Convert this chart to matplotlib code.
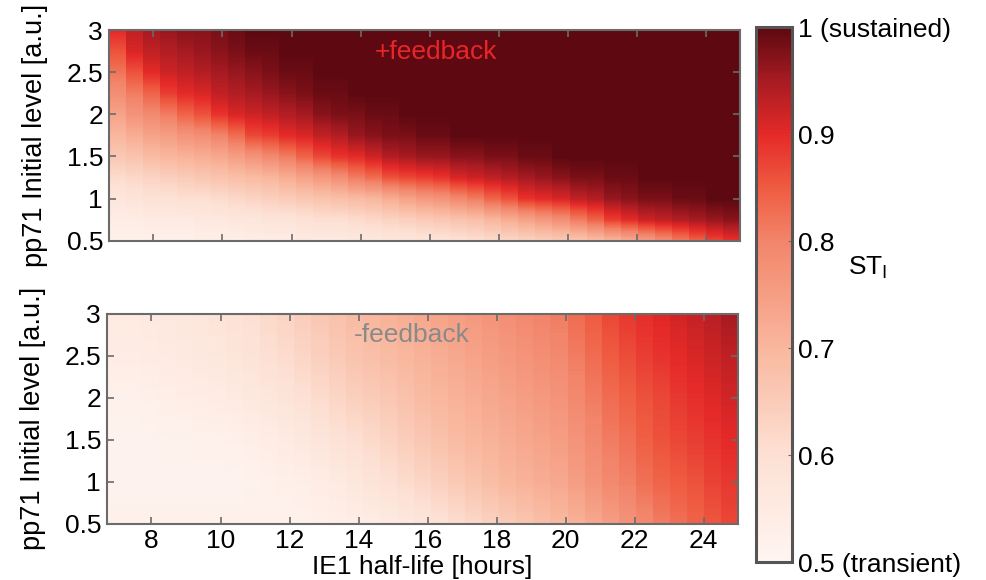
import numpy as np
import matplotlib
matplotlib.use('Agg')
from matplotlib import pyplot as plt
from matplotlib.colors import LinearSegmentedColormap, Normalize
from matplotlib.cm import ScalarMappable

plt.rcParams['font.family'] = ['Liberation Sans', 'DejaVu Sans']
plt.rcParams['font.size'] = 19

# IE1 half-life grid (column edges, hours) - 37 columns
half_life_edges = np.linspace(6.7, 25.0, 38)

# +feedback: ST_I per column, rows from pp71 = 3.0 down to 0.5 (step 0.25)
levels_pos = [3.0, 2.75, 2.5, 2.25, 2.0, 1.75, 1.5, 1.25, 1.0, 0.75, 0.5]
st_pos = [
    [0.90, 0.86, 0.82, 0.78, 0.74, 0.70, 0.66, 0.61, 0.57, 0.54, 0.52],
    [0.93, 0.91, 0.86, 0.81, 0.77, 0.72, 0.67, 0.62, 0.58, 0.54, 0.52],
    [0.95, 0.93, 0.90, 0.84, 0.79, 0.74, 0.69, 0.63, 0.59, 0.55, 0.52],
    [0.96, 0.94, 0.92, 0.88, 0.81, 0.75, 0.70, 0.64, 0.59, 0.55, 0.52],
    [0.97, 0.95, 0.93, 0.90, 0.84, 0.77, 0.71, 0.65, 0.60, 0.55, 0.52],
    [0.97, 0.96, 0.94, 0.91, 0.86, 0.78, 0.72, 0.66, 0.60, 0.56, 0.53],
    [0.98, 0.97, 0.95, 0.93, 0.89, 0.80, 0.73, 0.67, 0.61, 0.56, 0.53],
    [0.99, 0.98, 0.96, 0.94, 0.91, 0.83, 0.75, 0.68, 0.62, 0.57, 0.53],
    [1.00, 0.99, 0.97, 0.95, 0.92, 0.87, 0.77, 0.69, 0.63, 0.57, 0.54],
    [1.00, 0.99, 0.98, 0.96, 0.93, 0.88, 0.79, 0.70, 0.64, 0.58, 0.54],
    [1.00, 1.00, 0.99, 0.97, 0.94, 0.90, 0.81, 0.72, 0.65, 0.58, 0.54],
    [1.00, 1.00, 0.99, 0.98, 0.95, 0.91, 0.84, 0.74, 0.66, 0.59, 0.55],
    [1.00, 1.00, 1.00, 0.99, 0.97, 0.93, 0.87, 0.76, 0.67, 0.60, 0.55],
    [1.00, 1.00, 1.00, 0.99, 0.98, 0.94, 0.89, 0.78, 0.68, 0.60, 0.55],
    [1.00, 1.00, 1.00, 1.00, 0.98, 0.96, 0.90, 0.81, 0.69, 0.61, 0.56],
    [1.00, 1.00, 1.00, 1.00, 0.99, 0.97, 0.92, 0.83, 0.70, 0.62, 0.56],
    [1.00, 1.00, 1.00, 1.00, 0.99, 0.98, 0.94, 0.86, 0.72, 0.63, 0.57],
    [1.00, 1.00, 1.00, 1.00, 1.00, 0.98, 0.95, 0.87, 0.74, 0.64, 0.57],
    [1.00, 1.00, 1.00, 1.00, 1.00, 0.99, 0.96, 0.88, 0.76, 0.65, 0.58],
    [1.00, 1.00, 1.00, 1.00, 1.00, 0.99, 0.96, 0.89, 0.77, 0.66, 0.58],
    [1.00, 1.00, 1.00, 1.00, 1.00, 1.00, 0.97, 0.91, 0.79, 0.67, 0.59],
    [1.00, 1.00, 1.00, 1.00, 1.00, 1.00, 0.97, 0.92, 0.81, 0.68, 0.60],
    [1.00, 1.00, 1.00, 1.00, 1.00, 1.00, 0.98, 0.93, 0.84, 0.70, 0.61],
    [1.00, 1.00, 1.00, 1.00, 1.00, 1.00, 0.98, 0.94, 0.86, 0.72, 0.62],
    [1.00, 1.00, 1.00, 1.00, 1.00, 1.00, 0.99, 0.95, 0.89, 0.74, 0.63],
    [1.00, 1.00, 1.00, 1.00, 1.00, 1.00, 0.99, 0.96, 0.90, 0.76, 0.64],
    [1.00, 1.00, 1.00, 1.00, 1.00, 1.00, 1.00, 0.97, 0.91, 0.78, 0.65],
    [1.00, 1.00, 1.00, 1.00, 1.00, 1.00, 1.00, 0.98, 0.93, 0.81, 0.66],
    [1.00, 1.00, 1.00, 1.00, 1.00, 1.00, 1.00, 0.98, 0.94, 0.84, 0.68],
    [1.00, 1.00, 1.00, 1.00, 1.00, 1.00, 1.00, 0.99, 0.96, 0.88, 0.70],
    [1.00, 1.00, 1.00, 1.00, 1.00, 1.00, 1.00, 0.99, 0.97, 0.90, 0.72],
    [1.00, 1.00, 1.00, 1.00, 1.00, 1.00, 1.00, 1.00, 0.98, 0.92, 0.75],
    [1.00, 1.00, 1.00, 1.00, 1.00, 1.00, 1.00, 1.00, 0.98, 0.93, 0.78],
    [1.00, 1.00, 1.00, 1.00, 1.00, 1.00, 1.00, 1.00, 0.99, 0.94, 0.81],
    [1.00, 1.00, 1.00, 1.00, 1.00, 1.00, 1.00, 1.00, 0.99, 0.95, 0.84],
    [1.00, 1.00, 1.00, 1.00, 1.00, 1.00, 1.00, 1.00, 1.00, 0.96, 0.87],
    [1.00, 1.00, 1.00, 1.00, 1.00, 1.00, 1.00, 1.00, 1.00, 0.97, 0.89],
]

# -feedback: ST_I rows (pp71 = 3.0 down to 0.5, step 0.5), 37 columns each
levels_neg = [3.0, 2.5, 2.0, 1.5, 1.0, 0.5]
neg_y30 = [0.55, 0.55, 0.555, 0.56, 0.565, 0.57, 0.58, 0.59, 0.60, 0.615, 0.63, 0.645, 0.66,
           0.675, 0.69, 0.70, 0.71, 0.72, 0.73, 0.74, 0.75, 0.76, 0.77, 0.78, 0.79, 0.80,
           0.81, 0.83, 0.85, 0.87, 0.885, 0.895, 0.905, 0.915, 0.925, 0.935, 0.95]
neg_y25 = [0.54, 0.54, 0.545, 0.55, 0.555, 0.56, 0.565, 0.575, 0.585, 0.60, 0.61, 0.625, 0.64,
           0.655, 0.67, 0.68, 0.69, 0.70, 0.71, 0.72, 0.73, 0.74, 0.75, 0.76, 0.77, 0.78,
           0.79, 0.81, 0.83, 0.85, 0.865, 0.88, 0.89, 0.90, 0.91, 0.92, 0.93]
neg_y20 = [0.52, 0.52, 0.525, 0.53, 0.535, 0.54, 0.545, 0.55, 0.56, 0.57, 0.58, 0.595, 0.61,
           0.625, 0.64, 0.65, 0.66, 0.675, 0.69, 0.70, 0.71, 0.72, 0.73, 0.74, 0.75, 0.76,
           0.77, 0.79, 0.81, 0.83, 0.845, 0.86, 0.87, 0.885, 0.895, 0.905, 0.915]
neg_y15 = [0.51, 0.51, 0.51, 0.515, 0.515, 0.52, 0.52, 0.525, 0.53, 0.54, 0.55, 0.56, 0.575,
           0.59, 0.60, 0.615, 0.63, 0.645, 0.66, 0.675, 0.69, 0.70, 0.71, 0.72, 0.73, 0.74,
           0.75, 0.77, 0.79, 0.81, 0.825, 0.845, 0.86, 0.87, 0.88, 0.89, 0.90]
neg_y10 = [0.51, 0.51, 0.51, 0.51, 0.51, 0.51, 0.51, 0.51, 0.515, 0.52, 0.525, 0.53, 0.54,
           0.55, 0.565, 0.58, 0.595, 0.61, 0.625, 0.64, 0.655, 0.67, 0.685, 0.70, 0.71, 0.72,
           0.73, 0.75, 0.77, 0.79, 0.805, 0.825, 0.84, 0.85, 0.86, 0.875, 0.885]
neg_y05 = [0.52, 0.52, 0.52, 0.52, 0.52, 0.52, 0.52, 0.52, 0.52, 0.52, 0.52, 0.52, 0.525,
           0.53, 0.535, 0.54, 0.55, 0.56, 0.575, 0.59, 0.605, 0.62, 0.635, 0.65, 0.665, 0.68,
           0.695, 0.71, 0.73, 0.75, 0.77, 0.79, 0.81, 0.825, 0.84, 0.855, 0.87]

xticks = [8, 10, 12, 14, 16, 18, 20, 22, 24]
yticks = [0.5, 1, 1.5, 2, 2.5, 3]
ytick_labels = ['0.5', '1', '1.5', '2', '2.5', '3']
cbar_ticks = [0.5, 0.6, 0.7, 0.8, 0.9, 1.0]
cbar_labels = ['0.5 (transient)', '0.6', '0.7', '0.8', '0.9', '1 (sustained)']

cmap = LinearSegmentedColormap.from_list('st', [
    (0.0, '#fff5f1'), (0.2, '#fde0d3'), (0.4, '#f9b79e'), (0.6, '#f2856a'),
    (0.7, '#ef5c42'), (0.8, '#e52a28'), (0.9, '#a81b22'), (1.0, '#5e0911')])
norm = Normalize(0.5, 1.0)

frame = '#6b6b6b'
fig = plt.figure(figsize=(9.87, 5.8), dpi=100)
ax1 = fig.add_axes([0.110, 0.585, 0.640, 0.363])
ax2 = fig.add_axes([0.108, 0.097, 0.640, 0.362])

top = np.array(st_pos).T          # rows = levels_pos
bottom = np.array([neg_y30, neg_y25, neg_y20, neg_y15, neg_y10, neg_y05])


def draw(ax, grid, levels):
    half = abs(levels[0] - levels[1]) / 2
    for i in range(grid.shape[1]):
        ax.imshow(grid[:, i:i + 1], cmap=cmap, norm=norm, aspect='auto',
                  interpolation='bilinear', interpolation_stage='data',
                  extent=[half_life_edges[i], half_life_edges[i + 1],
                          min(levels) - half, max(levels) + half])
    ax.set_xlim(half_life_edges[0], half_life_edges[-1])
    ax.set_ylim(0.5, 3)
    ax.set_xticks(xticks)
    ax.set_yticks(yticks)
    ax.set_yticklabels(ytick_labels)
    ax.tick_params(direction='in', length=5, width=1.2, color=frame,
                   top=True, right=True, labelsize=19, pad=4)
    for s in ax.spines.values():
        s.set_color(frame)
        s.set_linewidth(1.5)
    ax.set_ylabel('pp71 Initial level [a.u.]', fontsize=19.5, labelpad=13)


draw(ax1, top, levels_pos)
draw(ax2, bottom, levels_neg)
ax1.set_xticklabels([])
ax2.set_xlabel('IE1 half-life [hours]', fontsize=19, labelpad=1)

ax1.text(0.519, 0.895, '+feedback', transform=ax1.transAxes, ha='center', va='center',
         color='#e8262a', fontsize=19)
ax2.text(0.483, 0.90, '-feedback', transform=ax2.transAxes, ha='center', va='center',
         color='#8a8a8a', fontsize=19)

cax = fig.add_axes([0.766, 0.031, 0.0365, 0.922])
cb = fig.colorbar(ScalarMappable(norm=norm, cmap=cmap), cax=cax)
cb.set_ticks(cbar_ticks)
cb.set_ticklabels(cbar_labels)
cb.ax.tick_params(direction='in', length=3, color=frame, labelsize=19, pad=4)
cb.outline.set_edgecolor('#555555')
cb.outline.set_linewidth(2.2)
cb.ax.text(2.55, 0.55, 'ST$_\\mathregular{I}$', transform=cb.ax.transAxes,
           ha='left', va='center', fontsize=19)

plt.savefig('out.png', dpi=100)
